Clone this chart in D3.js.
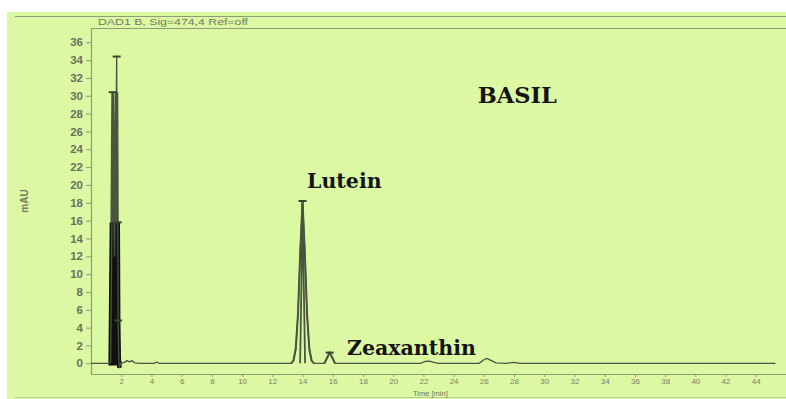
<!DOCTYPE html>
<html>
<head>
<meta charset="utf-8">
<script src="https://cdn.jsdelivr.net/npm/d3@7"></script>
<style>
  html, body { margin: 0; padding: 0; background: #ffffff; }
  svg { display: block; }
</style>
</head>
<body>
<svg id="chart" width="786" height="399"></svg>
<script>
// Detector signal: [retention time (min), absorbance (mAU)]
const signal = [
  [0.0, 0], [1.25, 0], [1.3, 0.2], [1.38, 15],
  [1.44, 30.4], [1.5, 18], [1.56, 12], [1.63, 22],
  [1.70, 34.4], [1.74, 16], [1.77, 15.8], [1.8, 4.8],
  [1.84, 0.4], [1.88, -0.5], [1.95, 0], [2.2, 0.1], [2.4, 0.3],
  [2.55, 0.15], [2.7, 0.3], [2.9, 0.05], [3.3, 0], [4.2, 0],
  [4.35, 0.15], [4.5, 0], [13.25, 0], [13.4, 0.3], [13.55, 1.6],
  [13.7, 5.5], [13.85, 12.5], [14.0, 18.2], [14.15, 12.5],
  [14.3, 5.5], [14.45, 1.6], [14.6, 0.3], [14.75, 0], [15.45, 0],
  [15.62, 0.6], [15.8, 1.2], [15.98, 0.6], [16.15, 0], [21.8, 0],
  [22.1, 0.2], [22.4, 0.25], [22.7, 0.1], [23.0, 0], [25.7, 0],
  [26.0, 0.4], [26.2, 0.55], [26.5, 0.3], [26.8, 0.05], [27.5, 0],
  [28.0, 0.1], [28.4, 0], [45.3, 0]
];

// Inner edges of the lutein band
const luteinInner = [[13.84, 0], [13.93, 9], [14.0, 18.2], [14.08, 9], [14.17, 0]];

// Integration marks at peak apexes
const peakMarks = [
  [1.44, 30.4], [1.70, 34.4], [1.77, 15.8], [1.8, 4.8], [14.0, 18.2], [15.8, 1.2]
];

const peakLabels = [
  { text: "Lutein", t: 14.3, v: 19.7, size: 20.5 },
  { text: "Zeaxanthin", t: 16.95, v: 0.95, size: 20.5 },
  { text: "BASIL", t: 25.6, v: 29.2, size: 22.5 }
];

const xTicks = d3.range(2, 45, 2);
const yTicks = d3.range(0, 37, 2);

const header = "DAD1 B, Sig=474,4 Ref=off";
const xTitle = "Time [min]";
const yTitle = "mAU";

const svg = d3.select("#chart");
const bg = "#ddf8a3";
const frameColor = "#8e9c7b";
const textGray = "#6f7a62";
const traceColor = "#4a5440";

svg.append("rect").attr("x", 7).attr("y", 12).attr("width", 779).attr("height", 387).attr("fill", bg);

const x = d3.scaleLinear().domain([0, 46]).range([91, 786]);
const y = d3.scaleLinear().domain([-1.2, 37.6]).range([374, 28]);

// header rule and bottom rule
svg.append("line").attr("x1", 15).attr("x2", 786).attr("y1", 16.5).attr("y2", 16.5)
  .attr("stroke", frameColor).attr("stroke-width", 1.2);
svg.append("line").attr("x1", 15).attr("x2", 786).attr("y1", 397.5).attr("y2", 397.5)
  .attr("stroke", "#b9cc98").attr("stroke-width", 1.2);

svg.append("text").attr("x", 98).attr("y", 25)
  .attr("font-family", "Liberation Sans, Arial, sans-serif").attr("font-size", 8.5)
  .attr("textLength", 150).attr("lengthAdjust", "spacingAndGlyphs")
  .attr("fill", textGray).text(header);

// plot frame (open on the right)
svg.append("path")
  .attr("d", `M786,28.5 H91.5 V374.5 H786`)
  .attr("fill", "none").attr("stroke", frameColor).attr("stroke-width", 1.2);

// axes
const yAxis = svg.append("g").attr("transform", "translate(91,0)")
  .call(d3.axisLeft(y).tickValues(yTicks).tickSize(5).tickPadding(3));
yAxis.select(".domain").remove();
yAxis.selectAll("line").attr("stroke", frameColor);
yAxis.selectAll("text").attr("fill", "#697060").attr("font-weight", "bold")
  .attr("font-size", 11.5).attr("font-family", "Liberation Sans, Arial, sans-serif");

const xAxis = svg.append("g").attr("transform", "translate(0,374)")
  .call(d3.axisBottom(x).tickValues(xTicks).tickSize(3).tickPadding(1.5));
xAxis.select(".domain").remove();
xAxis.selectAll("line").attr("stroke", frameColor);
xAxis.selectAll("text").attr("fill", "#778169")
  .attr("font-size", 8).attr("font-family", "Liberation Sans, Arial, sans-serif");

svg.append("text").attr("x", 413).attr("y", 395.5)
  .attr("font-family", "Liberation Sans, Arial, sans-serif").attr("font-size", 7.5)
  .attr("fill", textGray).text(xTitle);

svg.append("text").attr("transform", "translate(28,201) rotate(-90)")
  .attr("text-anchor", "middle")
  .attr("font-family", "Liberation Sans, Arial, sans-serif").attr("font-size", 10)
  .attr("font-weight", "bold").attr("fill", textGray).text(yTitle);

// clip regions for the solvent-front cluster shading
const defs = svg.append("defs");
defs.append("clipPath").attr("id", "below16").append("rect")
  .attr("x", 91).attr("width", 700).attr("y", y(15.8)).attr("height", y(-1.2) - y(15.8));
defs.append("clipPath").attr("id", "below30").append("rect")
  .attr("x", 91).attr("width", 700).attr("y", y(30.4)).attr("height", y(-1.2) - y(30.4));

const line = d3.line().x(d => x(d[0])).y(d => y(d[1]));
const area = d3.area().x(d => x(d[0])).y0(y(0)).y1(d => y(d[1]));
const front = signal.filter(d => d[0] >= 1.3 && d[0] <= 1.9);

svg.append("path").datum(front).attr("d", area)
  .attr("fill", "#55633f").attr("stroke", "#4c5a3c").attr("stroke-width", 3)
  .attr("clip-path", "url(#below30)");
svg.append("path").datum(front).attr("d", area)
  .attr("fill", "#111").attr("stroke", "#111").attr("stroke-width", 4.5)
  .attr("clip-path", "url(#below16)");

// main trace
svg.append("path").datum(signal).attr("d", line).attr("fill", "none")
  .attr("stroke", traceColor).attr("stroke-width", 1.3).attr("stroke-linejoin", "round");

// heavier stroke over the carotenoid peaks
[[13.2, 14.8], [15.4, 16.2]].forEach(([a, b]) => {
  svg.append("path").datum(signal.filter(d => d[0] >= a && d[0] <= b)).attr("d", line)
    .attr("fill", "none").attr("stroke", traceColor).attr("stroke-width", 2);
});

// lutein band inner edges
svg.append("path").datum(luteinInner).attr("d", line).attr("fill", "none")
  .attr("stroke", traceColor).attr("stroke-width", 1.8);

// apex marks
svg.append("g").selectAll("line").data(peakMarks).join("line")
  .attr("x1", d => x(d[0]) - 4).attr("x2", d => x(d[0]) + 4)
  .attr("y1", d => y(d[1])).attr("y2", d => y(d[1]))
  .attr("stroke", "#3a4530").attr("stroke-width", 2);

// compound labels
svg.append("g").selectAll("text").data(peakLabels).join("text")
  .attr("x", d => x(d.t)).attr("y", d => y(d.v))
  .attr("font-family", "DejaVu Serif, serif").attr("font-weight", "bold")
  .attr("font-size", d => d.size).attr("fill", "#141414")
  .text(d => d.text);
</script>
</body>
</html>
